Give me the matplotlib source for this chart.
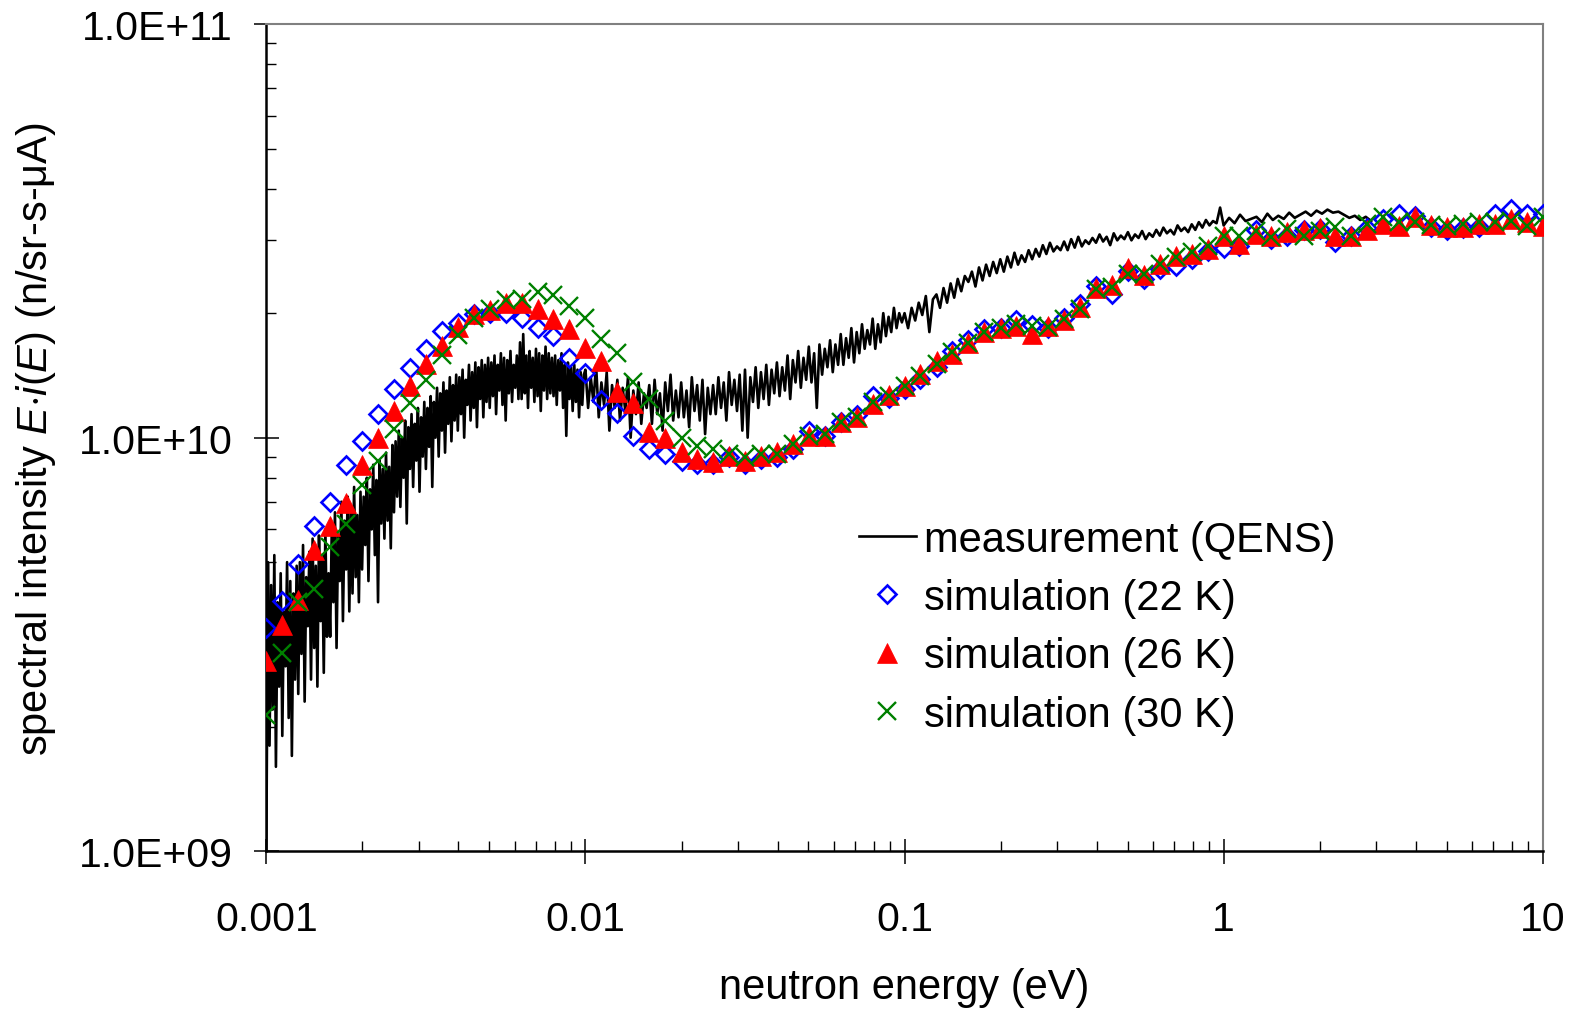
import numpy as np
import matplotlib
matplotlib.use("Agg")
import matplotlib.pyplot as plt
from matplotlib.ticker import FixedLocator, FuncFormatter, NullFormatter

plt.rcParams['font.family'] = ['Liberation Sans', 'DejaVu Sans']
plt.rcParams['mathtext.fontset'] = 'custom'
plt.rcParams['mathtext.rm'] = 'Liberation Sans'
plt.rcParams['mathtext.it'] = 'Liberation Sans:italic'

# simulation energy grid (eV): 20 points per decade from 0.001 to 10
mant = [1.0, 1.12, 1.26, 1.41, 1.58, 1.78, 2.0, 2.24, 2.51, 2.82,
        3.16, 3.55, 3.98, 4.47, 5.01, 5.62, 6.31, 7.08, 7.94, 8.91]
sim_e = [m * 10.0**d for d in range(-3, 1) for m in mant] + [10.0]

# simulated spectra, units of 1e9 n/sr-s-uA
sim22 = [3.46, 4.03, 4.95, 6.1, 7.0, 8.6, 9.8, 11.4, 13.1, 14.7,
         16.4, 18.1, 18.9, 19.9, 20.0, 20.0, 19.5, 18.4, 17.6, 15.55,
         14.3, 12.35, 11.5, 10.1, 9.39, 9.13, 8.79, 8.64, 8.64, 8.96,
         8.64, 8.88, 8.96, 9.39, 10.39, 10.11, 10.89, 11.34, 12.59, 12.5,
         13.1, 13.9, 14.8, 16.2, 17.2, 18.3, 18.4, 19.2, 18.7, 18.4,
         19.5, 21.0, 23.3, 22.25, 25.3, 24.2, 25.6, 26.0, 27.0, 28.3,
         28.8, 29.1, 31.7, 30.2, 30.8, 31.7, 32.0, 29.7, 30.8, 32.1,
         33.8, 34.7, 34.4, 32.3, 31.7, 32.1, 32.4, 34.7, 35.7, 34.7, 34.7]
sim26 = [2.89, 3.52, 4.06, 5.35, 6.1, 6.95, 8.6, 10.0, 11.6, 13.35,
         15.1, 16.7, 18.5, 19.9, 20.3, 21.2, 21.2, 20.5, 19.4, 18.3,
         16.5, 15.35, 12.9, 12.15, 10.3, 10.0, 9.24, 8.88, 8.71, 9.04,
         8.79, 9.04, 9.21, 9.65, 10.11, 10.11, 10.89, 11.2, 12.06, 12.7,
         13.35, 14.25, 15.3, 15.9, 16.9, 18.0, 18.4, 18.65, 17.8, 18.65,
         19.2, 20.7, 23.0, 23.4, 25.7, 24.7, 26.3, 27.5, 27.8, 28.6,
         30.7, 29.4, 31.1, 30.8, 31.4, 31.7, 32.1, 30.8, 30.8, 31.7,
         32.9, 32.5, 34.1, 32.6, 32.4, 32.4, 32.9, 32.9, 33.8, 33.2, 32.5]
sim30 = [2.13, 3.01, 4.0, 4.3, 5.43, 6.2, 7.7, 8.8, 10.5, 12.15,
         13.8, 15.85, 17.7, 19.45, 20.5, 21.55, 21.6, 22.45, 22.15, 20.8,
         19.45, 17.3, 16.0, 13.6, 12.4, 11.0, 10.0, 9.56, 9.39, 9.13,
         8.96, 9.13, 9.13, 9.65, 10.11, 10.2, 10.93, 11.2, 12.17, 12.6,
         13.35, 14.12, 15.1, 16.08, 16.93, 17.98, 18.38, 18.82, 18.65, 18.48,
         19.36, 20.46, 22.88, 23.09, 24.87, 24.87, 26.29, 27.29, 28.06, 29.11,
         30.78, 30.78, 31.66, 30.5, 31.96, 30.78, 31.66, 32.26, 30.78, 32.85,
         34.1, 33.17, 33.17, 32.6, 32.54, 32.85, 33.17, 33.17, 33.5, 32.54, 34.1]

# measured spectrum (QENS), units of 1e8, read in four log-spaced stretches
meas_a = [10, 50, 18, 44, 22, 52, 16, 40, 25, 47, 19, 38, 28, 50, 21, 45, 17, 42, 26, 49,
          24, 50, 30, 55, 23, 46, 35, 53, 26, 57, 31, 49, 25, 58, 36, 52, 27, 60, 33, 47,
          33, 60, 40, 66, 31, 58, 45, 70, 36, 63, 48, 72, 38, 68, 42, 76, 46, 65, 40, 74,
          48, 72, 55, 80, 45, 75, 60, 86, 52, 79, 40, 88, 62, 84, 57, 92, 63, 85, 54, 96,
          66, 98, 72, 104, 68, 100, 80, 110, 62, 106, 84, 114, 76, 108, 88, 118, 74, 112, 90, 122,
          84, 118, 95, 126, 76, 122, 100, 132, 90, 128, 104, 136, 92, 130, 108, 140, 98, 134, 110, 142,
          104, 140, 114, 146, 100, 138, 120, 150, 110, 144, 118, 152, 106, 148, 124, 154, 112, 150, 122, 156,
          118, 152, 126, 158, 114, 150, 130, 160, 120, 156, 110, 154, 128, 162, 122, 150, 132, 158, 124, 170,
          124, 178, 128, 158, 118, 162, 132, 156, 122, 164, 126, 160, 116, 158, 130, 166, 124, 160, 128, 156,
          126, 158, 120, 154, 130, 160, 118, 150, 101, 152, 124, 148, 116, 150, 122, 146, 112, 144, 120, 142]
meas_b = [146, 118, 140, 122, 150, 112, 136, 120, 144, 104, 134, 118,
          138, 110, 132, 116, 140, 100, 130, 114, 136, 108, 128, 118,
          134, 108, 138, 114, 128, 104, 136, 116, 142, 110, 130, 112,
          136, 112, 130, 106, 140, 116, 134, 110, 138, 102, 132, 114,
          134, 114, 140, 118, 136, 110, 144, 120, 138, 116, 142, 104,
          146, 100, 140, 122, 148, 118, 144, 124, 150, 120, 146, 128,
          152, 126, 148, 130, 158, 124, 154, 136, 162, 132, 156, 138,
          166, 136, 160, 118, 168, 142, 164, 148, 172, 144, 168, 150,
          178, 150, 174, 156, 184, 152, 180, 160, 188, 164, 182, 168,
          194, 164, 188, 170, 200, 176, 196, 180, 206, 184, 200, 190]
meas_c = [200, 184, 206, 192, 212, 198, 220, 180, 216,
          222, 206, 230, 212, 236, 218, 242, 226, 246,
          238, 252, 232, 258, 240, 262, 246, 266, 250,
          270, 252, 274, 258, 280, 262, 276, 266, 284,
          270, 286, 274, 292, 278, 296, 282, 290, 284,
          298, 284, 302, 288, 306, 290, 300, 294, 304,
          296, 310, 298, 306, 292, 312, 300, 308, 302,
          314, 300, 310, 304, 316, 302, 312, 306, 318,
          308, 322, 312, 318, 310, 326, 316, 322, 314,
          328, 318, 332, 322, 336, 326, 334, 330, 360]
meas_d = [326, 340, 330, 346, 334, 338, 342, 332, 348, 336, 344, 338, 350, 340,
          346, 352, 344, 354, 348, 356, 350, 352, 346, 340, 344, 336, 342, 334]

meas_e = np.concatenate([
    np.geomspace(0.001, 0.01, len(meas_a), endpoint=False),
    np.geomspace(0.01, 0.1, len(meas_b), endpoint=False),
    np.geomspace(0.1, 1.0, len(meas_c), endpoint=False),
    np.geomspace(1.0, 2.9, len(meas_d)),
])
meas_v = np.array(meas_a + meas_b + meas_c + meas_d) * 1e8

fig = plt.figure(figsize=(15.76, 10.12), dpi=100)
ax = fig.add_axes([0.169, 0.1579, 0.8099, 0.8173])

ax.plot(meas_e, meas_v, color='black', lw=1.9, label='measurement (QENS)', zorder=2)
ax.plot(sim_e, np.array(sim22) * 1e9, ls='none', marker='D', ms=9.5, mfc='none',
        mec='#0000FF', mew=1.9, label='simulation (22 K)', zorder=3)
ax.plot(sim_e, np.array(sim26) * 1e9, ls='none', marker='^', ms=14.5, mfc='#FF0000',
        mec='#FF0000', mew=0.5, label='simulation (26 K)', zorder=4)
ax.plot(sim_e, np.array(sim30) * 1e9, ls='none', marker='x', ms=13, mec='#008000',
        mew=1.7, label='simulation (30 K)', zorder=5)

ax.set_xscale('log')
ax.set_yscale('log')
ax.set_xlim(0.001, 10)
ax.set_ylim(1e9, 1e11)

ax.xaxis.set_major_locator(FixedLocator([0.001, 0.01, 0.1, 1, 10]))
ax.xaxis.set_major_formatter(FuncFormatter(lambda v, p: f"{v:g}"))
ax.xaxis.set_minor_locator(FixedLocator([m * 10.0**d for d in range(-3, 1) for m in range(2, 10)]))
ax.xaxis.set_minor_formatter(NullFormatter())
ax.yaxis.set_major_locator(FixedLocator([1e9, 1e10, 1e11]))
ax.yaxis.set_major_formatter(FuncFormatter(lambda v, p: f"{v:.1E}"))
ax.yaxis.set_minor_locator(FixedLocator([m * 10.0**d for d in range(9, 11) for m in range(2, 10)]))
ax.yaxis.set_minor_formatter(NullFormatter())

ax.tick_params(which='major', direction='inout', length=18, width=1.1, labelsize=29.5)
ax.tick_params(which='minor', direction='in', length=7, width=1.0)
ax.tick_params(axis='x', which='major', pad=26)
ax.tick_params(axis='y', which='major', pad=15)

for s in ['left', 'bottom']:
    ax.spines[s].set_color('black')
    ax.spines[s].set_linewidth(1.8)
for s in ['top', 'right']:
    ax.spines[s].set_color('#808080')
    ax.spines[s].set_linewidth(1.5)

ax.set_xlabel('neutron energy (eV)', fontsize=30, labelpad=21)
ax.set_ylabel(r'spectral intensity $E{\cdot}i(E)$ (n/sr-s-μA)', fontsize=30, labelpad=15)

ax.legend(loc='upper left', bbox_to_anchor=(0.464, 0.401), frameon=False, fontsize=30,
          handlelength=1.37, handletextpad=0.2, labelspacing=0.44, borderpad=0,
          borderaxespad=0)

fig.savefig('out.png', dpi=100)
